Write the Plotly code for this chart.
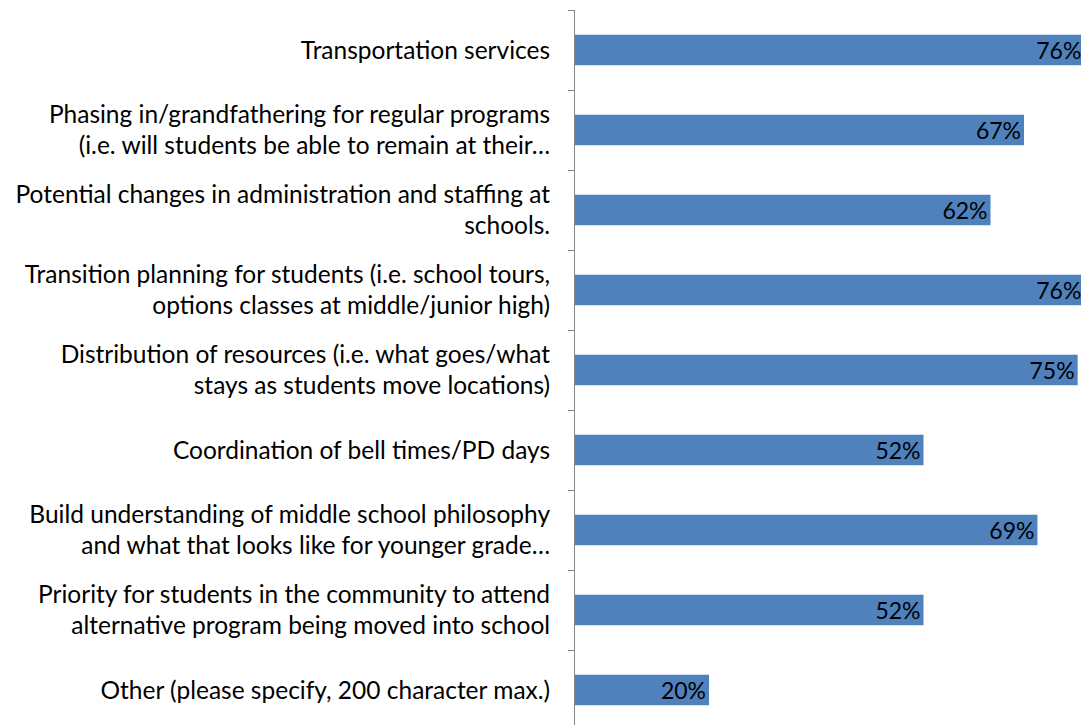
import plotly.graph_objects as go

categories = [
    "Transportation services",
    "Phasing in/grandfathering for regular programs<br>(i.e. will students be able to remain at their…",
    "Potential changes in administration and staffing at<br>schools.",
    "Transition planning for students (i.e. school tours,<br>options classes at middle/junior high)",
    "Distribution of resources (i.e. what goes/what<br>stays as students move locations)",
    "Coordination of bell times/PD days",
    "Build understanding of middle school philosophy<br>and what that looks like for younger grade…",
    "Priority for students in the community to attend<br>alternative program being moved into school",
    "Other (please specify, 200 character max.)",
]
values = [76, 67, 62, 76, 75, 52, 69, 52, 20]
labels = [f"{v}%" for v in values]

fig = go.Figure(go.Bar(
    x=values, y=categories, orientation="h",
    marker=dict(color="#4F81BD", line=dict(width=0)),
    text=labels, textposition="inside", insidetextanchor="end",
    constraintext="none",
    insidetextfont=dict(family="Lato", size=23, color="#000000"),
    cliponaxis=True, hoverinfo="skip",
))

fig.update_layout(
    width=1081, height=725,
    margin=dict(l=575, r=0, t=10, b=0),
    paper_bgcolor="white", plot_bgcolor="white",
    bargap=0.62, showlegend=False,
    font=dict(family="Lato", size=24.5, color="#000000"),
)
fig.update_xaxes(range=[0, 75.5], visible=False, showgrid=False, zeroline=False)
fig.update_yaxes(
    categoryorder="array", categoryarray=categories,
    range=[8.4375, -0.5],
    showline=True, linecolor="#868686", linewidth=1,
    ticks="outside", tickson="boundaries", ticklen=6, tickcolor="#868686",
    ticklabelstandoff=19, showgrid=False, zeroline=False,
    tickfont=dict(family="Lato", size=24.5, color="#000000"),
)

fig.write_html("out.html", config={"displayModeBar": False},
               post_script="document.body.style.margin='0';document.body.style.overflow='hidden';")
